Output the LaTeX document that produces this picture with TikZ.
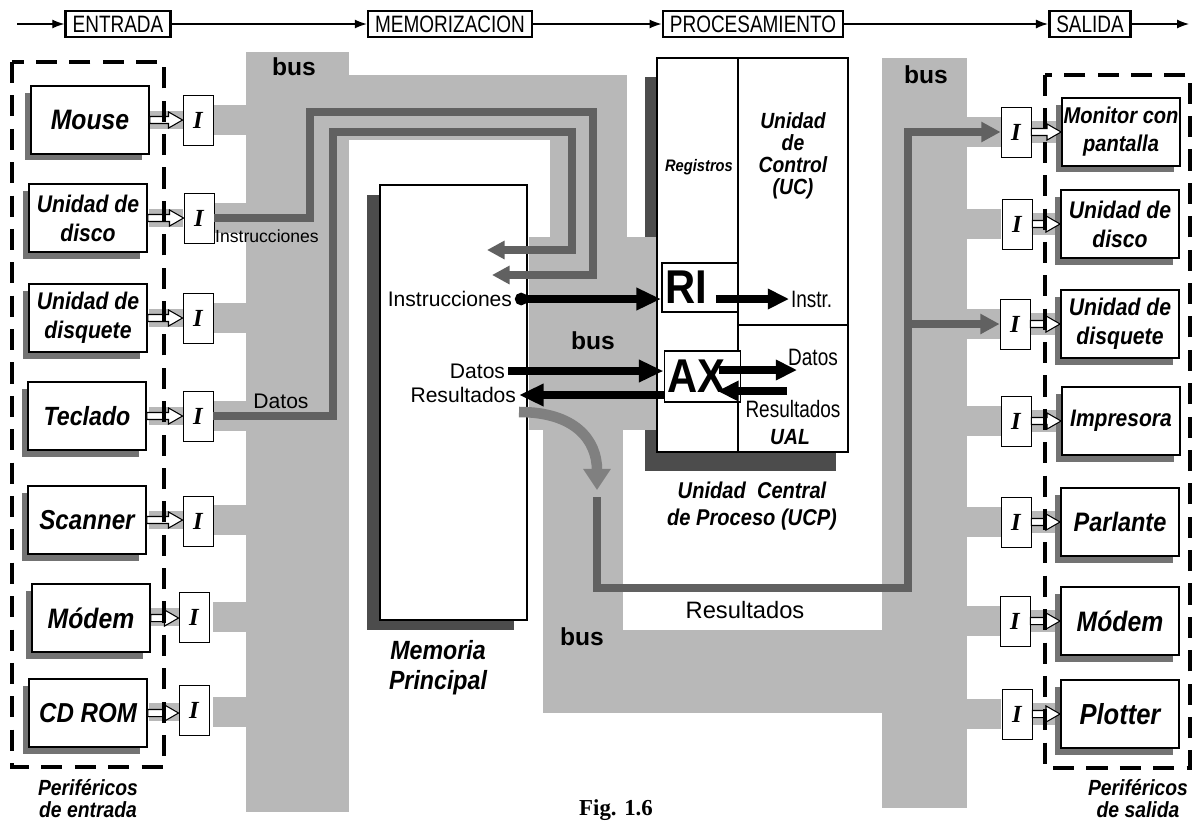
\documentclass[tikz,border=0pt]{standalone}
\usepackage{fontspec}
\setmainfont{Liberation Sans}
\newfontfamily\hcond{Liberation Sans}[FakeStretch=0.88]
\newfontfamily\hnarrow{Liberation Sans}[FakeStretch=0.8]
\newfontfamily\tms{Liberation Serif}
\usetikzlibrary{positioning,arrows.meta,calc,shadows}

\newcommand\devf[2]{\hcond\bfseries\itshape\fontsize{#1}{#2}\selectfont}
% white double arrow from a device to its interface (left to right)
\newcommand\hollowarr[2]{%
  \draw[fill=white, line width=0.6pt] let \p1=(#1), \p2=(#2) in
    (\x1,\y1+2pt) -- (\x2-8pt,\y1+2pt) -- (\x2-8pt,\y1+4.6pt) -- (\x2,\y1)
    -- (\x2-8pt,\y1-4.6pt) -- (\x2-8pt,\y1-2pt) -- (\x1,\y1-2pt) -- cycle;}

\begin{document}
\begin{tikzpicture}[x=0.02cm, y=-0.02cm,
  bus/.style={fill=black!28},
  dev/.style={draw, line width=1.1pt, fill=white, minimum width=23.6mm, minimum height=13.6mm, inner sep=0.5pt, align=center, font=\devf{16}{17}, drop shadow={shadow xshift=-1.3mm, shadow yshift=-1.3mm, fill=black!55, opacity=1}},
  two/.style={font=\devf{13.7}{16.5}},
  iface/.style={draw, line width=0.5pt, fill=white, minimum width=6mm, minimum height=10mm, inner sep=0pt, font=\tms\bfseries\itshape\fontsize{14}{14}\selectfont},
  stage/.style={draw, line width=1.5pt, fill=white, minimum height=5.2mm, inner xsep=4pt, inner ysep=1pt, font=\hnarrow\fontsize{13.5}{14}\selectfont},
  flow/.style={line width=0.7pt, -{Latex[length=2.4mm, width=1.8mm]}},
  unit/.style={draw, line width=1.6pt, fill=white, inner sep=0pt},
  reg/.style={draw, line width=1.1pt, fill=white, text width=14mm, align=left, inner xsep=0.6mm, inner ysep=0pt, font=\hcond\bfseries\fontsize{27}{27}\selectfont},
  ipath/.style={draw=black!62, line width=4pt, line join=miter, -{Triangle[length=10pt, width=10pt]}},
  barrow/.style={line width=4.5pt, -{Triangle[length=14pt, width=12pt]}},
  carrow/.style={line width=4.2pt, -{Triangle[length=12pt, width=11pt]}},
  rpath/.style={draw=black!62, line width=4.5pt, line join=miter, -{Triangle[length=11pt, width=11pt]}},
  memtxt/.style={font=\fontsize{12}{12}\selectfont, inner sep=1.5pt},
  cputxt/.style={font=\hnarrow\fontsize{13.5}{13.5}\selectfont, inner sep=1pt},
  buslbl/.style={font=\bfseries\fontsize{14}{14}\selectfont},
  dashbox/.style={line width=1.8pt, dash pattern=on 12pt off 7pt}
]
  \path[use as bounding box, fill=white] (0,0) rectangle (1192,829);

  % bus
  \fill[bus] (246,52) rectangle (349,812);
  \fill[bus] (246,75) rectangle (627,140);
  \fill[bus] (550,140) rectangle (627,237);
  \fill[bus] (529,237) rectangle (657,430);
  \fill[bus] (543,427) rectangle (623,713);
  \fill[bus] (543,630) rectangle (967,713);
  \fill[bus] (882,58) rectangle (967,808);
  \foreach \y in {120,218,318,416,520,617,712} {
    \fill[bus] (149,\y-9) rectangle (183,\y+9);
    \fill[bus] (213,\y-15) rectangle (246,\y+15);
  }
  \foreach \y in {132,224,324,421,522,621,714} {
    \fill[bus] (967,\y-15) rectangle (1001,\y+15);
    \fill[bus] (1031,\y-11) rectangle (1062,\y+11);
  }
  \node[buslbl] (bus1) at (294,67) {bus};
  \node[buslbl] (bus3) at (926,75) {bus};
  \node[buslbl] (bus4) at (582,637) {bus};

  % input devices
  \node[dev] (mouse) at (90,120) {Mouse};
  \node[dev, two] (disco) at (88,218) {Unidad de\\disco};
  \node[dev, two] (disquete) at (88,318) {Unidad de\\disquete};
  \node[dev, font=\devf{15}{16}] (teclado) at (87,416) {Teclado};
  \node[dev, font=\devf{15.6}{16}] (scanner) at (87,520) {Scanner};
  \node[dev] (modem) at (91,618) {Módem};
  \node[dev, font=\devf{15.6}{16}] (cdrom) at (88,713) {CD ROM};

  \node[iface] (ia) at (198,120) {I};
  \node[iface] (ib) at (199,218) {I};
  \node[iface] (ic) at (198,318) {I};
  \node[iface] (id) at (198,416) {I};
  \node[iface] (ie) at (198,521) {I};
  \node[iface] (if) at (194,617) {I};
  \node[iface] (ig) at (194,710) {I};

  \hollowarr{mouse.east}{ia.west}
  \hollowarr{disco.east}{ib.west}
  \hollowarr{disquete.east}{ic.west}
  \hollowarr{teclado.east}{id.west}
  \hollowarr{scanner.east}{ie.west}
  \hollowarr{modem.east}{if.west}
  \hollowarr{cdrom.east}{ig.west}

  % output devices
  \node[dev, font=\devf{13}{16}] (monitor) at (1121,132) {Monitor con\\pantalla};
  \node[dev, two] (rdisco) at (1120,224) {Unidad de\\disco};
  \node[dev, two] (rdisquete) at (1120,324) {Unidad de\\disquete};
  \node[dev, font=\devf{13.6}{15}] (impresora) at (1121,421) {Impresora};
  \node[dev, font=\devf{15.2}{16}] (parlante) at (1120,522) {Parlante};
  \node[dev] (rmodem) at (1120,621) {Módem};
  \node[dev, font=\devf{16.5}{17}] (plotter) at (1120,714) {Plotter};

  \node[iface] (oa) at (1016,132) {I};
  \node[iface] (ob) at (1017,224) {I};
  \node[iface] (oc) at (1015,324) {I};
  \node[iface] (od) at (1016,421) {I};
  \node[iface] (oe) at (1016,522) {I};
  \node[iface] (of) at (1015,621) {I};
  \node[iface] (og) at (1017,714) {I};

  \hollowarr{oa.east}{monitor.west}
  \hollowarr{ob.east}{rdisco.west}
  \hollowarr{oc.east}{rdisquete.west}
  \hollowarr{od.east}{impresora.west}
  \hollowarr{oe.east}{parlante.west}
  \hollowarr{of.east}{rmodem.west}
  \hollowarr{og.east}{plotter.west}

  % memory and CPU
  \node[unit, minimum width=29.4mm, minimum height=87mm, drop shadow={shadow xshift=-2.6mm, shadow yshift=-2mm, fill=black!70, opacity=1}] (mem) at (453.5,402.5) {};
  \node[unit, minimum width=38.2mm, minimum height=78.8mm, drop shadow={shadow xshift=-2.4mm, shadow yshift=-3.8mm, fill=black!70, opacity=1}] (ucp) at (752.5,255) {};
  \fill[bus] (529,237) rectangle (655.5,430);
  \node[buslbl] (bus2) at (593,341) {bus};
  \draw[line width=1.1pt] (738,58) -- (738,452);
  \draw[line width=1.1pt] (738,325) -- (848,325);

  \node[reg, minimum height=9.8mm] (ri) at (700,287.5) {RI};
  \node[reg, minimum height=10.2mm] (ax) at (702.5,376.5) {AX};

  \node[font=\devf{9.5}{10}] (regs) at (699,167) {Registros};
  \node[font=\devf{12.5}{12.5}, align=center] (uc) at (793,156) {Unidad\\de\\Control\\(UC)};
  \node[font=\devf{12.5}{12}] (ual) at (790,437) {UAL};
  \node[font=\devf{13}{15.4}, align=center] (ucplbl) at (752,506) {Unidad\ \ Central\\de Proceso (UCP)};
  \node[font=\devf{15}{17}, align=center] (memlbl) at (438,668) {Memoria\\Principal};

  % instruction and data paths on the bus
  \coordinate (mi) at (492,275);
  \coordinate (md) at (487,250);
  \draw[ipath] (ib.east) -- (310,218) |- (593,112) |- (mi);
  \draw[ipath] (id.east) -- (333,416) |- (572,132) |- (md);
  \node[font=\fontsize{10}{10}\selectfont] (linst) at (267,236) {Instrucciones};
  \node[font=\fontsize{12}{12}\selectfont] (ldat) at (281,401) {Datos};

  % memory <-> registers
  \node[memtxt, anchor=east] (mins) at (515,299) {Instrucciones};
  \node[memtxt, anchor=east] (mdat) at (508,371) {Datos};
  \node[memtxt, anchor=east] (mres) at (519,395) {Resultados};
  \draw[barrow, {Circle[length=7pt]}-{Triangle[length=14pt, width=12pt]}] (mins.east) -- (mins.east -| ri.west);
  \draw[barrow] (mdat.east) -- (mdat.east -| ax.west);
  \draw[barrow] (mres.east -| ax.west) -- (mres.east);

  % inside the CPU
  \node[cputxt, anchor=west] (instr) at (789,299) {Instr.};
  \draw[carrow] ([xshift=-4.6mm]ri.east |- instr.west) -- (instr.west);
  \coordinate (axo) at (797,370);
  \coordinate (axi) at (787,391);
  \draw[carrow] ([xshift=-4.4mm]ax.east |- axo) -- (axo);
  \draw[carrow] (axi) -- ([xshift=-4.8mm]ax.east |- axi);
  \node[cputxt] (cdat) at (813,357) {Datos};
  \node[cputxt] (cres) at (793,409) {Resultados};

  % results to the output devices
  \coordinate (cs) at (519,412);
  \coordinate (ce) at (597,490);
  \draw[draw=black!50, line width=6pt, -{Triangle[length=12pt, width=15pt]}] (cs) .. controls (575,412) and (597,440) .. (ce);
  \coordinate (rs) at (597,497);
  \coordinate (rr) at (908,588);
  \draw[rpath] (rs) |- (rr) |- (oa.west);
  \draw[rpath] (rr |- oc.west) -- (oc.west);
  \node[font=\fontsize{13.5}{14}\selectfont] (lres) at (745,610) {Resultados};

  % stages
  \coordinate (fin) at (17,24);
  \node[stage] (entrada) at (118,24) {ENTRADA};
  \node[stage] (memo) at (450,24) {MEMORIZACION};
  \node[stage] (proc) at (753,24) {PROCESAMIENTO};
  \node[stage] (salida) at (1090,24) {SALIDA};
  \coordinate (fout) at (1189,24);
  \draw[flow] (fin) -- (entrada);
  \draw[flow] (entrada) -- (memo);
  \draw[flow] (memo) -- (proc);
  \draw[flow] (proc) -- (salida);
  \draw[flow] (salida) -- (fout);

  % peripheral groups
  \draw[dashbox] (12,62) rectangle (164,767);
  \draw[dashbox] (1045,75) rectangle (1190,768);
  \node[font=\devf{12.5}{12.5}, align=center] (pin) at (88,799) {Periféricos\\de entrada};
  \node[font=\devf{12.5}{12.5}, align=center] (pout) at (1138,799) {Periféricos\\de salida};

  \node[font=\tms\bfseries\fontsize{13}{13}\selectfont] (fig) at (616,810) {Fig. 1.6};
\end{tikzpicture}
\end{document}
